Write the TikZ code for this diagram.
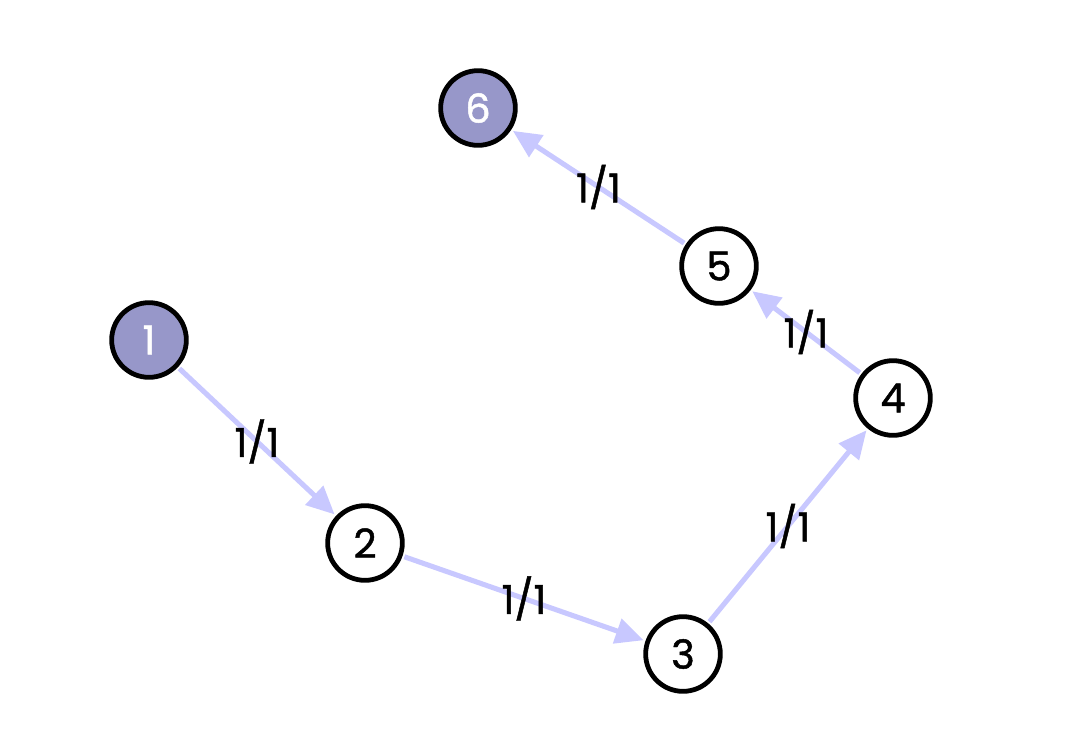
\documentclass[tikz,border=0pt]{standalone}
\usepackage{fontspec}
\setmainfont{Poppins}
\newfontfamily\popfont{Poppins}[FakeBold=1.2]
\usetikzlibrary{arrows.meta}
\definecolor{nodefill}{HTML}{9797C9}
\definecolor{edgecol}{HTML}{C8C8FF}
\tikzset{
  vtx/.style={circle, draw=black, line width=3.6pt, minimum size=56pt, inner sep=0pt, fill=white, font=\popfont\fontsize{30}{32}\selectfont},
  src/.style={vtx, fill=nodefill, text=white},
  flow/.style={draw=edgecol, line width=3.8pt, -{Triangle[length=21pt, width=19pt]}, shorten >=1.5pt, shorten <=1.5pt},
  lbl/.style={font=\popfont\fontsize{30}{32}\selectfont, text=black}
}
\begin{document}
\begin{tikzpicture}[x=0.75pt, y=-0.75pt]
\useasboundingbox (0,0) rectangle (1068,732);
\node[src] (n1) at (149,340) {1};
\node[vtx] (n2) at (365,543) {2};
\node[vtx] (n3) at (683,654) {3};
\node[vtx] (n4) at (893,398) {4};
\node[vtx] (n5) at (719,266) {5};
\node[src] (n6) at (478,108) {6};
\draw[flow] (n1) -- (n2) node[pos=0.5, lbl] {1/1};
\draw[flow] (n2) -- (n3) node[pos=0.5, lbl] {1/1};
\draw[flow] (n3) -- (n4) node[pos=0.5, lbl] {1/1};
\draw[flow] (n4) -- (n5) node[pos=0.5, lbl] {1/1};
\draw[flow] (n5) -- (n6) node[pos=0.5, lbl] {1/1};
\end{tikzpicture}
\end{document}
